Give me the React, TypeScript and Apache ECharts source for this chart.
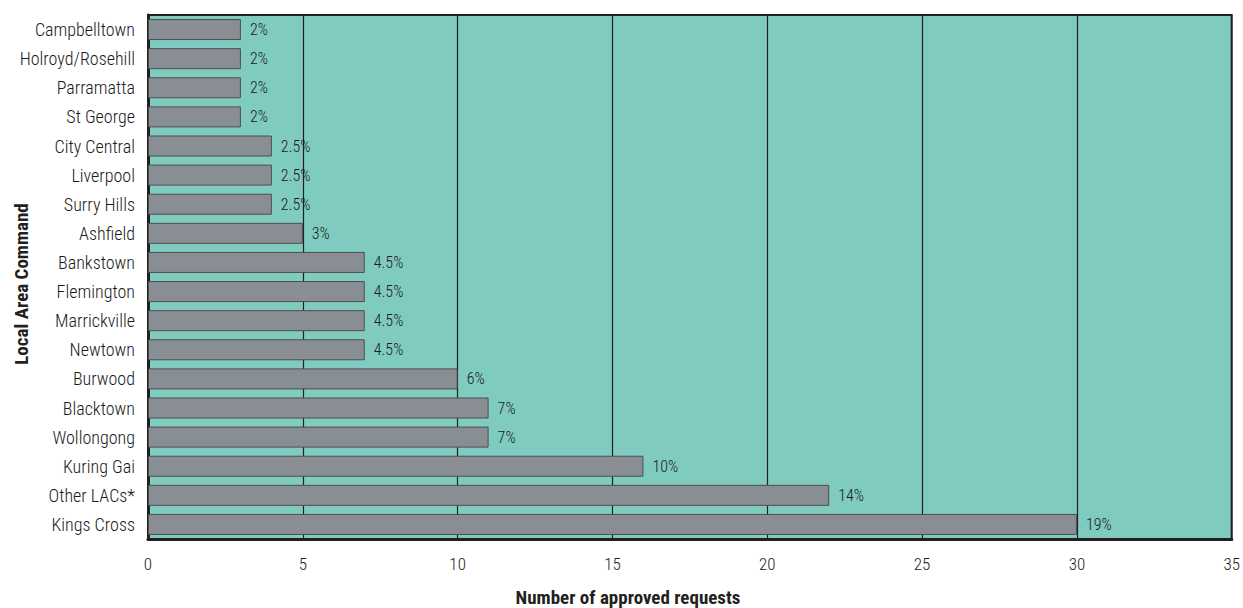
import React, { useEffect, useRef } from "react";
import * as echarts from "echarts";

const categories = [
  "Campbelltown", "Holroyd/Rosehill", "Parramatta", "St George", "City Central",
  "Liverpool", "Surry Hills", "Ashfield", "Bankstown", "Flemington", "Marrickville",
  "Newtown", "Burwood", "Blacktown", "Wollongong", "Kuring Gai", "Other LACs*", "Kings Cross",
];
const values = [3, 3, 3, 3, 4, 4, 4, 5, 7, 7, 7, 7, 10, 11, 11, 16, 22, 30];
const percentLabels = [
  "2%", "2%", "2%", "2%", "2.5%", "2.5%", "2.5%", "3%", "4.5%", "4.5%", "4.5%",
  "4.5%", "6%", "7%", "7%", "10%", "14%", "19%",
];
const xTicks = { min: 0, max: 35, interval: 5 };

const FONT = "'Roboto Condensed', 'DejaVu Sans Condensed', sans-serif";

export default function App() {
  const ref = useRef<HTMLDivElement>(null);
  useEffect(() => {
    document.body.style.margin = "0";
    const chart = echarts.init(ref.current!, null, { renderer: "svg" });
    chart.setOption({
      animation: false,
      backgroundColor: "#ffffff",
      grid: {
        left: 148,
        right: 8,
        top: 15,
        bottom: 69,
        show: true,
        backgroundColor: "#80cbbf",
        borderColor: "#231f20",
        borderWidth: 2,
      },
      xAxis: {
        type: "value",
        min: xTicks.min,
        max: xTicks.max,
        interval: xTicks.interval,
        axisLine: { show: true, lineStyle: { color: "#231f20", width: 3 } },
        axisTick: { show: false },
        axisLabel: { color: "#1a1a1a", fontFamily: FONT, fontWeight: 300, fontSize: 17, margin: 16 },
        splitLine: { show: true, lineStyle: { color: "#231f20", width: 1.2 } },
      },
      yAxis: {
        type: "category",
        data: categories,
        inverse: true,
        axisLine: { show: true, lineStyle: { color: "#231f20", width: 3 } },
        axisTick: { show: false },
        axisLabel: { color: "#1a1a1a", fontFamily: FONT, fontWeight: 300, fontSize: 18, margin: 13 },
        splitLine: { show: false },
      },
      graphic: [
        {
          type: "text",
          x: 628,
          y: 597,
          style: {
            text: "Number of approved requests",
            font: `bold 19px ${FONT}`,
            fill: "#231f20",
            align: "center",
            verticalAlign: "middle",
          },
        },
        {
          type: "text",
          x: 21,
          y: 284,
          rotation: Math.PI / 2,
          style: {
            text: "Local Area Command",
            font: `bold 19px ${FONT}`,
            fill: "#231f20",
            align: "center",
            verticalAlign: "middle",
          },
        },
      ],
      series: [
        {
          type: "bar",
          data: values,
          barWidth: 21,
          itemStyle: { color: "#898e94", borderColor: "#4d4d4f", borderWidth: 1 },
          label: {
            show: true,
            position: "right",
            distance: 9,
            color: "#1a1a1a",
            fontFamily: FONT,
            fontWeight: 300,
            fontSize: 16,
            formatter: (p: any) => percentLabels[p.dataIndex],
          },
        },
      ],
    });
    return () => chart.dispose();
  }, []);
  return <div ref={ref} style={{ width: 1243, height: 608, position: "absolute", left: 0, top: 0 }} />;
}
